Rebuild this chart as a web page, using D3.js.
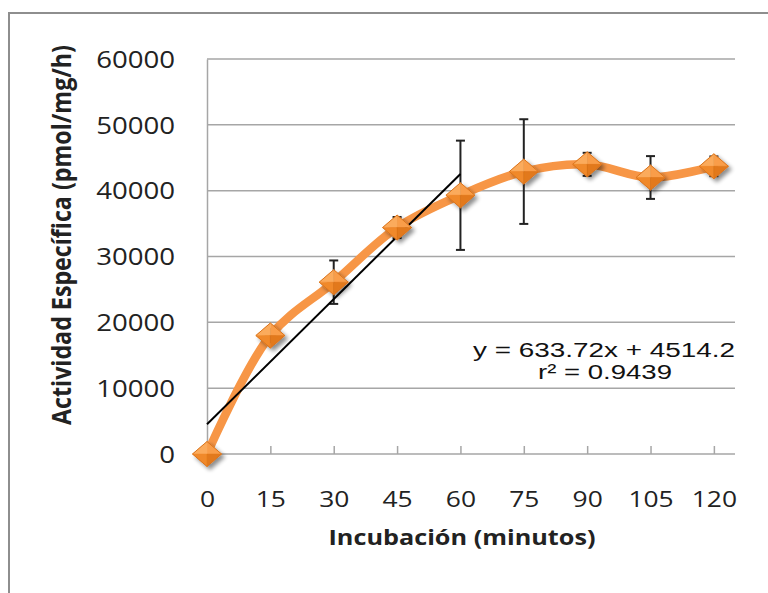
<!DOCTYPE html>
<html>
<head>
<meta charset="utf-8">
<script src="https://cdn.jsdelivr.net/npm/d3@7"></script>
<style>
  html, body { margin: 0; padding: 0; background: #fff; }
  svg { display: block; }
</style>
</head>
<body>
<svg id="chart" width="768" height="593"></svg>
<script>
// Incubation time (minutes) and specific activity (pmol/mg/h)
const minutos = [0, 15, 30, 45, 60, 75, 90, 105, 120];
const actividad = [0, 18000, 26100, 34400, 39300, 42900, 44000, 42000, 43700];
const errorEstandar = [0, 1000, 3300, 1600, 8300, 7950, 1750, 3250, 1500];
const xTicks = [0, 15, 30, 45, 60, 75, 90, 105, 120];
const yTicks = [0, 10000, 20000, 30000, 40000, 50000, 60000];
// Linear fit over the first 60 minutes
const ajuste = { pendiente: 633.72, intercepto: 4514.2, r2: 0.9439, xInicio: 0, xFin: 60 };
const ecuacion = "y = 633.72x + 4514.2";
const rCuadrado = "r² = 0.9439";

const sx = 1.2; // horizontal text stretch
const svg = d3.select("#chart");

const x = d3.scaleLinear().domain([0, 125]).range([207, 735]);
const y = d3.scaleLinear().domain([0, 60000]).range([454, 59]);

// outer chart frame
svg.append("rect")
  .attr("x", 9).attr("y", 13).attr("width", 820).attr("height", 640)
  .attr("fill", "#fff").attr("stroke", "#8e8e8e").attr("stroke-width", 2);

const defs = svg.append("defs");
const shadow = defs.append("filter").attr("id", "sombra")
  .attr("x", "-50%").attr("y", "-50%").attr("width", "200%").attr("height", "200%");
shadow.append("feGaussianBlur").attr("in", "SourceAlpha").attr("stdDeviation", 2.2).attr("result", "b");
shadow.append("feOffset").attr("in", "b").attr("dx", 2.5).attr("dy", 3).attr("result", "o");
shadow.append("feComponentTransfer").attr("in", "o").attr("result", "s")
  .append("feFuncA").attr("type", "linear").attr("slope", 0.45);
const merge = shadow.append("feMerge");
merge.append("feMergeNode").attr("in", "s");
merge.append("feMergeNode").attr("in", "SourceGraphic");

// horizontal gridlines
svg.append("g").selectAll("line").data(yTicks.filter(d => d > 0)).join("line")
  .attr("x1", x(0)).attr("x2", x(125))
  .attr("y1", d => y(d)).attr("y2", d => y(d))
  .attr("stroke", "#a6a6a6").attr("stroke-width", 1.5);

// y axis
const gy = svg.append("g").attr("transform", `translate(${x(0)},0)`)
  .call(d3.axisLeft(y).tickValues(yTicks).tickSize(0).tickPadding(0).tickFormat(d3.format("d")));
gy.select(".domain").attr("stroke", "#a6a6a6").attr("stroke-width", 1.5);
gy.selectAll("text")
  .attr("font-family", "'Open Sans', sans-serif").attr("font-size", 23).attr("fill", "#222")
  .attr("x", -32 / sx).attr("dy", "0.36em")
  .attr("transform", `scale(${sx},1)`);

// x axis with inward ticks
const gx = svg.append("g").attr("transform", `translate(0,${y(0)})`)
  .call(d3.axisBottom(x).tickValues(xTicks).tickSizeInner(-8).tickSizeOuter(0).tickPadding(0));
gx.select(".domain").attr("stroke", "#a6a6a6").attr("stroke-width", 1.5)
  .attr("d", `M${x(0)},0H${x(125)}`);
gx.selectAll(".tick line").attr("stroke", "#a6a6a6").attr("stroke-width", 1.5);
gx.selectAll("text")
  .attr("font-family", "'Open Sans', sans-serif").attr("font-size", 22).attr("fill", "#222")
  .attr("y", 53).attr("dy", 0)
  .attr("transform", `scale(${sx},1)`);

// axis titles
svg.append("text")
  .attr("transform", `translate(462,545) scale(${sx},1)`)
  .attr("text-anchor", "middle")
  .attr("font-family", "'Open Sans', sans-serif").attr("font-weight", "bold")
  .attr("font-size", 21).attr("fill", "#222")
  .attr("textLength", 267 / sx).attr("lengthAdjust", "spacingAndGlyphs")
  .text("Incubación (minutos)");

svg.append("text")
  .attr("transform", `translate(71,235) scale(${sx},1) rotate(-90)`)
  .attr("text-anchor", "middle")
  .attr("font-family", "'Open Sans', sans-serif").attr("font-weight", "bold")
  .attr("font-size", 22.5).attr("fill", "#222")
  .attr("textLength", 380).attr("lengthAdjust", "spacingAndGlyphs")
  .text("Actividad Específica (pmol/mg/h)");

// smoothed data line
const datos = minutos.map((m, i) => ({ m, v: actividad[i], e: errorEstandar[i] }));
svg.append("path").datum(datos)
  .attr("fill", "none").attr("stroke", "#f79646").attr("stroke-width", 8.5)
  .attr("stroke-linejoin", "round").attr("stroke-linecap", "round")
  .attr("d", d3.line().x(d => x(d.m)).y(d => y(d.v)).curve(d3.curveCatmullRom.alpha(0.5)));

// error bars
const eb = svg.append("g").attr("stroke", "#222").attr("stroke-width", 2);
datos.filter(d => d.e > 0).forEach(d => {
  const cx = x(d.m), yt = y(d.v + d.e), yb = y(d.v - d.e);
  eb.append("line").attr("x1", cx).attr("x2", cx).attr("y1", yt).attr("y2", yb);
  eb.append("line").attr("x1", cx - 4.5).attr("x2", cx + 4.5).attr("y1", yt).attr("y2", yt);
  eb.append("line").attr("x1", cx - 4.5).attr("x2", cx + 4.5).attr("y1", yb).attr("y2", yb);
});

// linear trendline
svg.append("line")
  .attr("x1", x(ajuste.xInicio)).attr("y1", y(ajuste.intercepto + ajuste.pendiente * ajuste.xInicio))
  .attr("x2", x(ajuste.xFin)).attr("y2", y(ajuste.intercepto + ajuste.pendiente * ajuste.xFin))
  .attr("stroke", "#000").attr("stroke-width", 2);

// bevelled diamond markers
const hw = 14.5, hh = 12.5;
const marcas = svg.append("g").selectAll("g").data(datos).join("g")
  .attr("transform", d => `translate(${x(d.m)},${y(d.v)})`)
  .attr("filter", "url(#sombra)");
const facetas = [
  { p: [[0, -hh], [hw, 0], [0, 0]], c: "#f99d48" },
  { p: [[0, -hh], [-hw, 0], [0, 0]], c: "#fbab5c" },
  { p: [[-hw, 0], [0, hh], [0, 0]], c: "#f0892a" },
  { p: [[hw, 0], [0, hh], [0, 0]], c: "#e2791b" }
];
facetas.forEach(f => {
  marcas.append("path")
    .attr("d", "M" + f.p.map(q => q.join(",")).join("L") + "Z")
    .attr("fill", f.c).attr("stroke", f.c).attr("stroke-width", 0.5);
});
marcas.append("path")
  .attr("d", `M0,${-hh}L${hw},0L0,${hh}L${-hw},0Z`)
  .attr("fill", "none").attr("stroke", "#d9731c").attr("stroke-width", 1);

// regression label
svg.append("text")
  .attr("transform", `translate(604,357) scale(${sx},1)`)
  .attr("text-anchor", "middle")
  .attr("font-family", "'Liberation Sans', Arial, sans-serif").attr("font-size", 21).attr("fill", "#111")
  .attr("textLength", 262 / sx).attr("lengthAdjust", "spacingAndGlyphs")
  .text(ecuacion);
svg.append("text")
  .attr("transform", `translate(605,379) scale(${sx},1)`)
  .attr("text-anchor", "middle")
  .attr("font-family", "'Liberation Sans', Arial, sans-serif").attr("font-size", 21).attr("fill", "#111")
  .attr("textLength", 134 / sx).attr("lengthAdjust", "spacingAndGlyphs")
  .text(rCuadrado);
</script>
</body>
</html>
